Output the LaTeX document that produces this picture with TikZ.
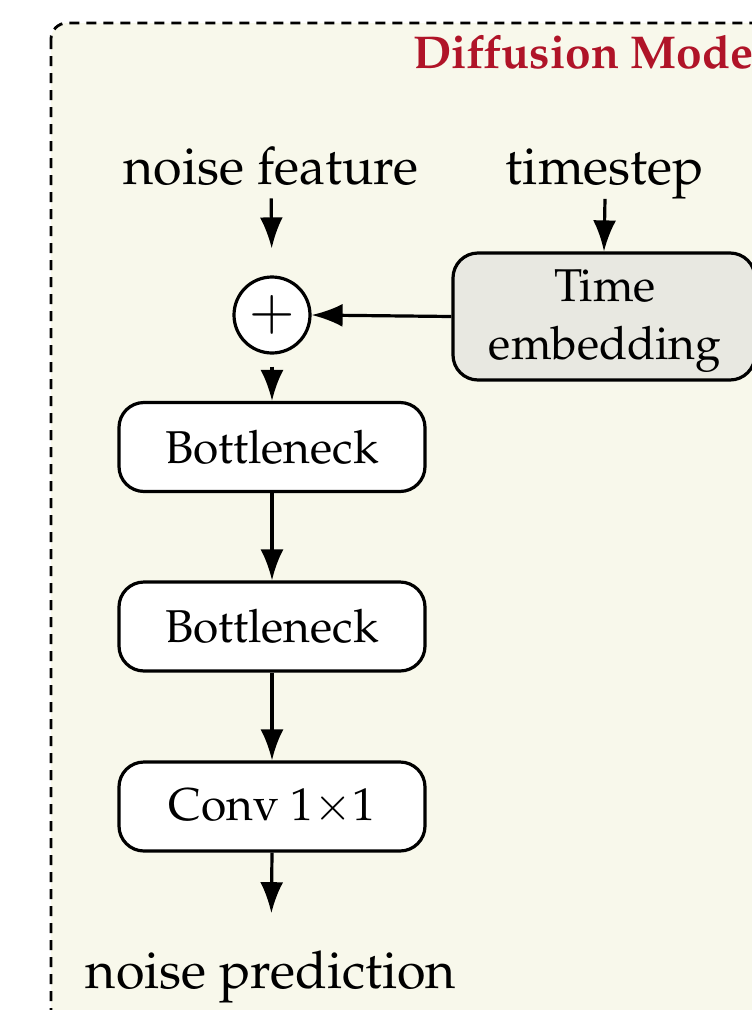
\documentclass[tikz,border=0pt]{standalone}
\usepackage[T1]{fontenc}
\usepackage{mathpazo}
\usetikzlibrary{arrows.meta}
\definecolor{panelbg}{HTML}{F8F8EB}
\definecolor{titlered}{HTML}{B01428}
\definecolor{embedgray}{HTML}{E8E8E1}
\begin{document}
\begin{tikzpicture}[x=1pt,y=-1pt,
  panel/.style={draw=black, line width=2.8pt, dash pattern=on 10pt off 7pt,
    rounded corners=16pt, fill=panelbg},
  block/.style={draw=black, line width=3.2pt, rounded corners=25pt, fill=white,
    minimum width=306pt, minimum height=89pt, inner sep=0pt,
    font=\fontsize{46}{57}\selectfont, align=center},
  label/.style={inner sep=0pt, font=\fontsize{52}{60}\selectfont, anchor=base},
  summer/.style={circle, draw=black, line width=3.2pt, fill=white,
    minimum size=76pt, inner sep=0pt, font=\fontsize{56}{56}\selectfont},
  arr/.style={-{Latex[length=31pt,width=23pt]}, line width=3.2pt}]
\useasboundingbox (0,0) rectangle (752,1010);
\clip (0,0) rectangle (752,1010);

% dashed panel running past the page edges
\draw[panel] (51,23) rectangle (820,1080);
\node[inner sep=0pt, anchor=base west, text=titlered,
  font=\fontsize{46}{46}\selectfont\bfseries] (title) at (413,68) {Diffusion Model};

% inputs
\node[label] (nf) at (271,184) {noise feature};
\node[label] (ts) at (605,184) {timestep};

% adder and time embedding
\node[summer] (plus) at (272,315) {$+$};
\node[block, fill=embedgray, minimum width=302pt, minimum height=127pt]
  (temb) at (604,316.5) {};
\node[inner sep=0pt, align=center, font=\fontsize{46}{58}\selectfont]
  (tembtext) at (605,321) {Time\\embedding};

% main stack
\node[block] (b1) at (272,447) {Bottleneck};
\node[block] (b2) at (272,626.5) {Bottleneck};
\node[block] (conv) at (272,806.5) {Conv 1$\times$1};

% output
\node[label] (np) at (271,988) {noise prediction};

% connectors
\draw[arr, shorten <=13pt, shorten >=27pt] (nf.south) -- (plus.north);
\draw[arr] (ts.south) -- (temb.north);
\draw[arr] (temb.west) -- (plus.east);
\draw[arr, shorten <=12pt] (plus.south) -- (b1.north);
\draw[arr] (b1.south) -- (b2.north);
\draw[arr] (b2.south) -- (conv.north);
\draw[arr, shorten >=37pt] (conv.south) -- (np.north);
\end{tikzpicture}
\end{document}
